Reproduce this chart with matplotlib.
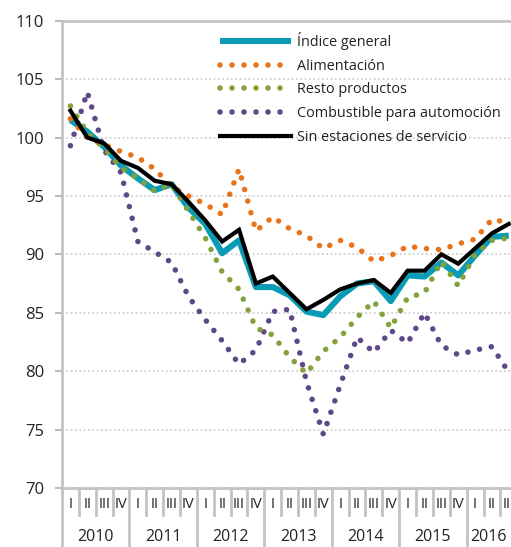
import matplotlib
matplotlib.use("Agg")
import matplotlib.pyplot as plt
from matplotlib.lines import Line2D
import matplotlib.transforms as mtransforms

plt.rcParams['font.family'] = ['Open Sans', 'DejaVu Sans']

years = ['2010', '2011', '2012', '2013', '2014', '2015', '2016']
quarter_labels = ['I', 'II', 'III', 'IV']

indice_general = [101.5, 100.5, 99.2, 97.6, 96.5, 95.5, 96.0, 94.0, 92.6, 90.1, 91.2, 87.2,
                  87.2, 86.5, 85.1, 84.8, 86.4, 87.5, 87.7, 86.0, 88.2, 88.1, 89.3, 88.2,
                  89.9, 91.5, 91.6]
alimentacion = [101.6, 100.0, 99.4, 98.8, 98.3, 97.3, 95.8, 95.0, 94.3, 93.4, 97.3, 92.0,
                93.2, 92.2, 91.6, 90.5, 91.2, 90.6, 89.4, 89.9, 90.7, 90.5, 90.4, 90.9,
                91.3, 93.0, 92.7]
resto = [102.7, 100.4, 99.1, 97.4, 96.5, 95.4, 96.0, 93.7, 91.4, 88.5, 87.0, 83.7,
         83.1, 81.2, 79.8, 81.7, 82.9, 84.6, 86.0, 83.7, 86.3, 86.7, 89.4, 87.3,
         90.0, 91.2, 91.4]
combustible = [99.3, 103.9, 98.9, 97.0, 91.1, 90.2, 89.3, 86.4, 84.4, 82.6, 80.6, 81.8,
               85.1, 85.3, 79.1, 74.6, 78.8, 82.9, 81.6, 83.5, 82.4, 85.0, 82.2, 81.4,
               81.8, 82.1, 79.9]
sin_estaciones = [102.3, 100.0, 99.5, 98.0, 97.4, 96.3, 96.0, 94.5, 92.9, 91.1, 92.1, 87.5,
                  88.1, 86.7, 85.3, 86.1, 87.0, 87.5, 87.8, 86.7, 88.6, 88.6, 90.0, 89.2,
                  90.5, 91.8, 92.6]

labels = ['Índice general', 'Alimentación', 'Resto productos',
          'Combustible para automoción', 'Sin estaciones de servicio']

c_teal = '#0a9bb5'
c_orange = '#e8731a'
c_green = '#82a23c'
c_purple = '#5d4888'
c_grid = '#c9c9c9'
c_text = '#222222'

W, H = 511, 547
fig = plt.figure(figsize=(W / 100, H / 100), dpi=100)
left_px, right_px, top_px, bot_px = 62, 511, 20.7, 488
ax = fig.add_axes([left_px / W, (H - bot_px) / H, (right_px - left_px) / W, (bot_px - top_px) / H])

n = len(sin_estaciones)
x = list(range(n))
qw = 16.86
xmax = -0.5 + (right_px - left_px) / qw
ax.set_xlim(-0.5, xmax)
ax.set_ylim(70, 110)

dot_ls = (0, (0.01, 2.15))
dkw = dict(lw=4.0, linestyle=dot_ls, dash_capstyle='round', zorder=3)

l1, = ax.plot(x[:len(indice_general)], indice_general, color=c_teal, lw=4.4,
              solid_joinstyle='round', solid_capstyle='butt', zorder=2)
l4, = ax.plot(x[:len(combustible)], combustible, color=c_purple, **dkw)
l3, = ax.plot(x[:len(resto)], resto, color=c_green, **dkw)
l2, = ax.plot(x[:len(alimentacion)], alimentacion, color=c_orange, **dkw)
l5, = ax.plot(x, sin_estaciones, color='black', lw=3.0,
              solid_joinstyle='miter', zorder=4)

# y axis
ax.set_yticks(range(70, 111, 5))
ax.tick_params(axis='y', length=5, width=1.5, color='#bdbdbd', pad=8,
               labelsize=12, labelcolor=c_text)
for v in range(75, 110, 5):
    ax.axhline(v, color=c_grid, lw=1.2, linestyle=(0, (1, 1.6)), zorder=1)
ax.spines['right'].set_visible(False)
for s in ['left', 'top', 'bottom']:
    ax.spines[s].set_color('#c3c3c3')
    ax.spines[s].set_linewidth(2)

# x axis: custom quarter / year labels
ax.set_xticks([])
trans = mtransforms.blended_transform_factory(ax.transData, ax.transAxes)
ax_h = bot_px - top_px
q_y = -(505 - bot_px) / ax_h
y_y = -(537 - bot_px) / ax_h
q_sep = -(515 - bot_px) / ax_h
y_sep = -(H - bot_px + 2) / ax_h
for i in range(n):
    ax.text(i, q_y, quarter_labels[i % 4], transform=trans, ha='center', va='center',
            fontsize=10.5, color=c_text, clip_on=False)
    xs = i - 0.5
    bottom = y_sep if i % 4 == 0 else q_sep
    ax.add_line(Line2D([xs, xs], [0, bottom], transform=trans, color='#c3c3c3',
                       lw=2, clip_on=False))
for k, yr in enumerate(years):
    start = 4 * k - 0.5
    end = min(4 * k + 3.5, xmax)
    ax.text((start + end) / 2, y_y, yr, transform=trans, ha='center', va='center',
            fontsize=11.5, color=c_text, clip_on=False)

leg = ax.legend([l1, l2, l3, l4, l5], labels, loc='upper left',
                bbox_to_anchor=((220 - left_px) / (right_px - left_px), (bot_px - 32) / ax_h),
                frameon=False, fontsize=10.4, handlelength=4.9, handletextpad=0.45,
                labelspacing=0.6, borderpad=0, borderaxespad=0)
for t in leg.get_texts():
    t.set_color(c_text)

fig.savefig('out.png', dpi=100)
